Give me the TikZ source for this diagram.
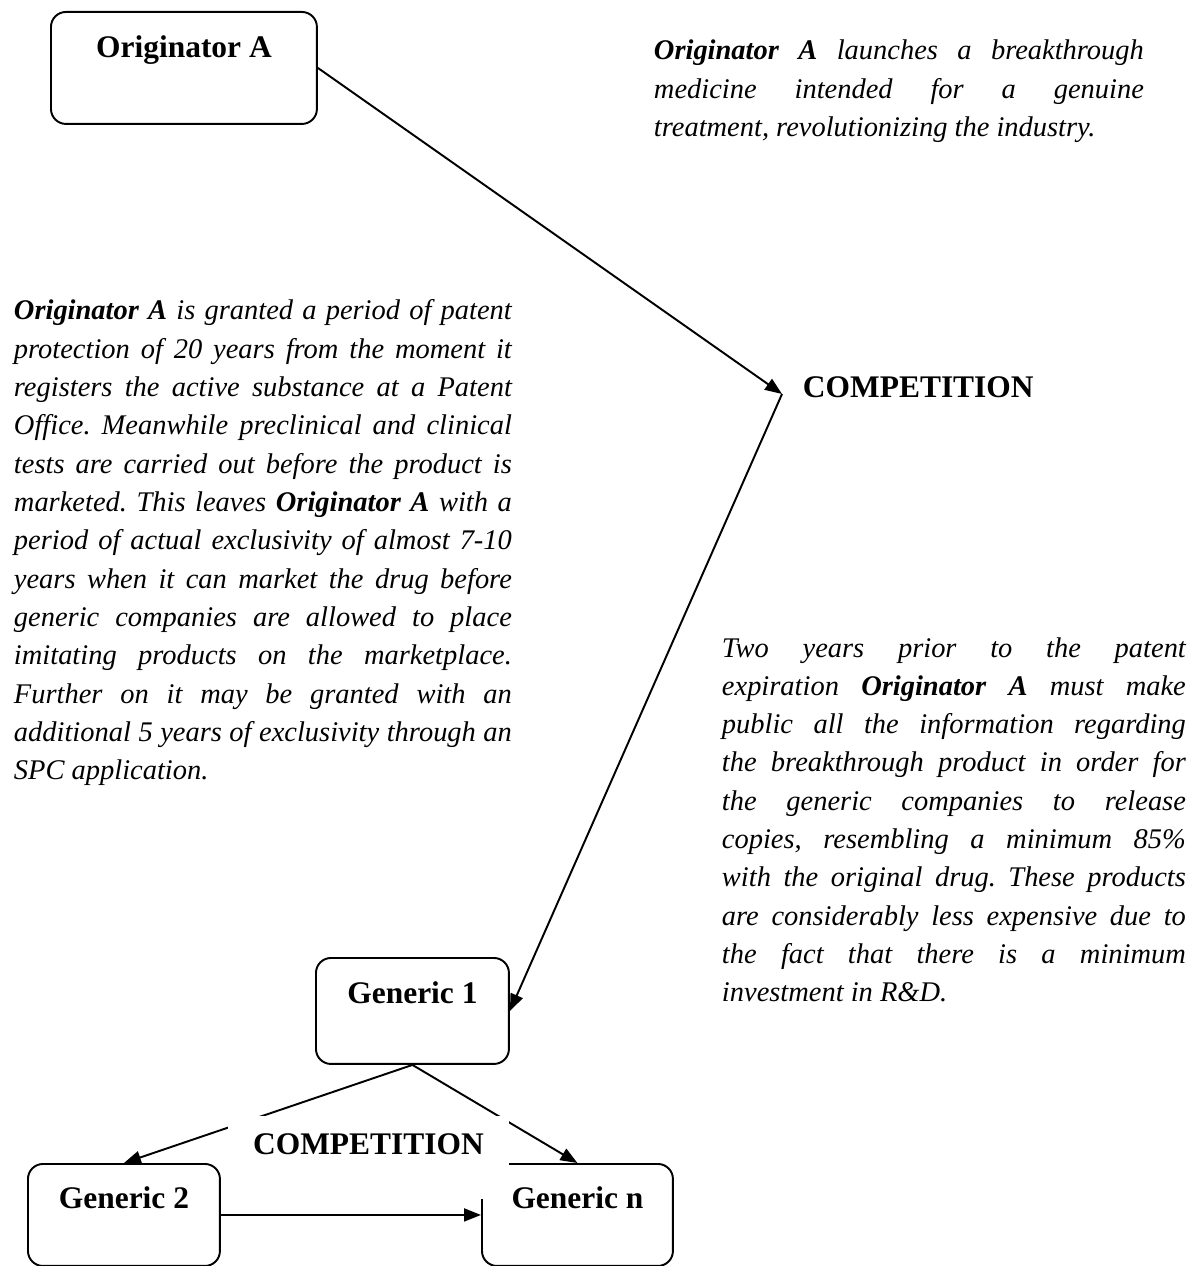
\documentclass[tikz,border=0pt]{standalone}
\usepackage{fontspec}
\setmainfont{Liberation Serif}
\usetikzlibrary{arrows.meta}
\frenchspacing
\newcommand{\bodyfont}{\fontsize{16.2}{21.8}\selectfont\itshape}
\newcommand{\headfont}{\fontsize{17.9}{21}\selectfont\bfseries}
\newcommand{\arrowtip}{-{Triangle[length=.34cm,width=.26cm]}}

\begin{document}
\begin{tikzpicture}[x=.02cm,y=-.02cm,line width=1.1pt]
          % frame of the page
      \useasboundingbox (0,0) rectangle (1190,1266);

          % boxes
      \node (orig) at (50,11) [draw, rounded corners=.3cm, inner sep=0pt, anchor=north west,
            minimum width=5.32cm, text height=.92cm, text depth=1.32cm, font=\headfont] {Originator A};
      \node (gen1) at (315,957) [draw, rounded corners=.3cm, inner sep=0pt, anchor=north west,
            minimum width=3.86cm, text height=.92cm, text depth=1.2cm, font=\headfont] {Generic 1};
      \node (gen2) at (27,1163) [draw, rounded corners=.3cm, inner sep=0pt, anchor=north west,
            minimum width=3.84cm, text height=.9cm, text depth=1.14cm, font=\headfont] {Generic 2};
      \node (genn) at (481,1163) [draw, rounded corners=.3cm, inner sep=0pt, anchor=north west,
            minimum width=3.82cm, text height=.9cm, text depth=1.14cm, font=\headfont] {Generic n};

      \node (comp1) at (802,398) [inner sep=0pt, anchor=base west, font=\headfont] {COMPETITION};
      \coordinate (turn) at (782,394);

          % texts
      \node (launch) at (653,60) [inner sep=0pt, anchor=base west, text width=9.8cm, align=justify, font=\bodyfont]
            {\textbf{Originator A} launches a breakthrough\linebreak
             medicine intended for a genuine\linebreak
             treatment, revolutionizing the industry.};
      \node (patent) at (13,320) [inner sep=0pt, anchor=base west, text width=9.96cm, align=justify, font=\bodyfont]
            {\textbf{Originator A} is granted a period of patent\linebreak
             protection of 20 years from the moment it\linebreak
             registers the active substance at a Patent\linebreak
             Office. Meanwhile preclinical and clinical\linebreak
             tests are carried out before the product is\linebreak
             marketed. This leaves \textbf{Originator A} with a\linebreak
             period of actual exclusivity of almost 7-10\linebreak
             years when it can market the drug before\linebreak
             generic companies are allowed to place\linebreak
             imitating products on the marketplace.\linebreak
             Further on it may be granted with an\linebreak
             additional 5 years of exclusivity through an\linebreak
             SPC application.};
      \node (expiry) at (721,657) [inner sep=0pt, anchor=base west, text width=9.28cm, align=justify, font=\bodyfont]
            {Two years prior to the patent\linebreak
             expiration \textbf{Originator A} must make\linebreak
             public all the information regarding\linebreak
             the breakthrough product in order for\linebreak
             the generic companies to release\linebreak
             copies, resembling a minimum 85\%\linebreak
             with the original drug. These products\linebreak
             are considerably less expensive due to\linebreak
             the fact that there is a minimum\linebreak
             investment in R\&D.};

          % arrows
      \draw[\arrowtip] (orig.east) to (turn);
      \draw[\arrowtip] (turn) to (gen1.east);
      \draw[\arrowtip] (gen1.south) to (gen2.north);
      \draw[\arrowtip] (gen1.south) to (genn.north);
      \draw[\arrowtip] (gen2.east) to (genn.west);

          % label over the lower arrows
      \node (comp2) at (227,1115) [fill=white, inner sep=0pt, anchor=north west,
            minimum width=5.62cm, text height=.78cm, text depth=.88cm, font=\headfont] {COMPETITION};
\end{tikzpicture}
\end{document}
